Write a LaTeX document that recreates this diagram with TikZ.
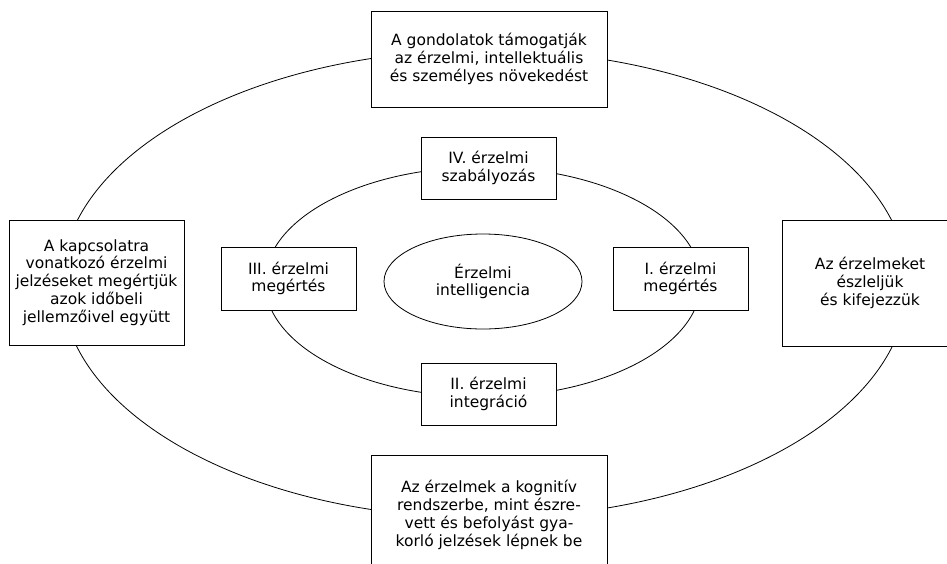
\documentclass[tikz,border=0pt]{standalone}
\usepackage{fontspec}
\setmainfont{DejaVu Sans}
\usetikzlibrary{shapes.geometric}
\begin{document}
\begin{tikzpicture}[x=1pt,y=-1pt,
  every node/.style={font=\fontsize{15.5}{17.8}\selectfont, align=center, inner sep=0pt},
  box/.style={draw, line width=0.8pt, fill=white, rectangle},
  ring/.style={draw, line width=0.8pt},
]
\useasboundingbox (0,0) rectangle (947,563);
\clip (0,0) rectangle (947,563);
% rings
\draw[ring] (484.5,284) ellipse [x radius=423, y radius=234];
\draw[ring] (483,282) ellipse [x radius=218, y radius=115];
% outer boxes
\node[box, minimum width=236pt, minimum height=96pt] (top) at (489,59)
  {A gondolatok támogatják\\az érzelmi, intellektuális\\és személyes növekedést};
\node[box, minimum width=236pt, minimum height=120pt] (bottom) at (489,515)
  {Az érzelmek a kognitív\\rendszerbe, mint észre-\\vett és befolyást gya-\\korló jelzések lépnek be};
\node[box, minimum width=175pt, minimum height=125pt] (left) at (96.5,282.5)
  {A kapcsolatra\\vonatkozó érzelmi\\jelzéseket megértjük\\azok időbeli\\jellemzőivel együtt};
\node[box, minimum width=176pt, minimum height=126pt] (right) at (870,283)
  {Az érzelmeket\\észleljük\\és kifejezzük};
% inner boxes
\node[box, minimum width=135pt, minimum height=62pt] (iv) at (488.5,168)
  {IV. érzelmi\\szabályozás};
\node[box, minimum width=135pt, minimum height=63pt] (iii) at (288.5,278.5)
  {III. érzelmi\\megértés};
\node[box, minimum width=135pt, minimum height=63pt] (i) at (680.5,278.5)
  {I. érzelmi\\megértés};
\node[box, minimum width=135pt, minimum height=62pt] (ii) at (488.5,394)
  {II. érzelmi\\integráció};
% center
\node[draw, line width=0.8pt, ellipse, minimum width=198pt, minimum height=95pt] (ei) at (483,281.5)
  {Érzelmi\\intelligencia};
\end{tikzpicture}
\end{document}
